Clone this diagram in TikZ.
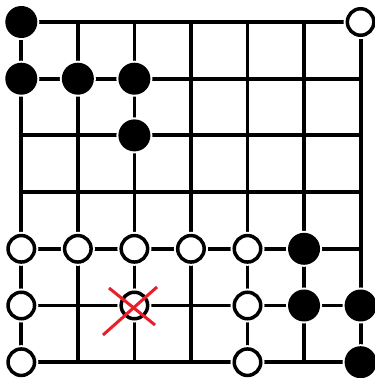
\documentclass[tikz,border=0pt]{standalone}
\usetikzlibrary{calc}
\definecolor{crossred}{RGB}{232,30,40}
\begin{document}
\begin{tikzpicture}[x=1pt,y=1pt,
  gridline/.style={line width=3.8pt, draw=black},
  blackstone/.style={circle, inner sep=0pt, minimum size=32pt, fill=black,
     preaction={draw=white, line width=4pt}},
  whitestone/.style={circle, inner sep=0pt, minimum size=26.5pt, fill=white,
     draw=black, line width=3.5pt, preaction={draw=white, line width=7.5pt}},
  crossline/.style={draw=crossred, line width=3pt}]
\useasboundingbox (0,0) rectangle (375,378);
% grid points
\foreach \i in {0,...,6}{
  \foreach \j in {0,...,6}{
    \coordinate (g-\i-\j) at ({21.3+56.55*\i},{378-22-56.7*\j});
  }
}
% grid lines
\foreach \k in {0,...,6}{
  \draw[gridline] (g-0-\k) -- (g-6-\k);
  \draw[gridline] (g-\k-0) -- (g-\k-6);
}
% black stones
\foreach \i/\j in {0/0,0/1,1/1,2/1,2/2,5/4,5/5,6/5,6/6}{
  \node[blackstone] (b-\i-\j) at (g-\i-\j) {};
}
% white stones
\foreach \i/\j in {6/0,0/4,1/4,2/4,3/4,4/4,0/5,2/5,4/5,0/6,4/6}{
  \node[whitestone] (w-\i-\j) at (g-\i-\j) {};
}
% red cross
\coordinate (xa1) at (103,{378-335});
\coordinate (xa2) at (157,{378-287});
\coordinate (xb1) at (109,{378-288});
\coordinate (xb2) at (155,{378-325});
\draw[crossline] (xa1) -- (xa2);
\draw[crossline] (xb1) -- (xb2);
\end{tikzpicture}
\end{document}
